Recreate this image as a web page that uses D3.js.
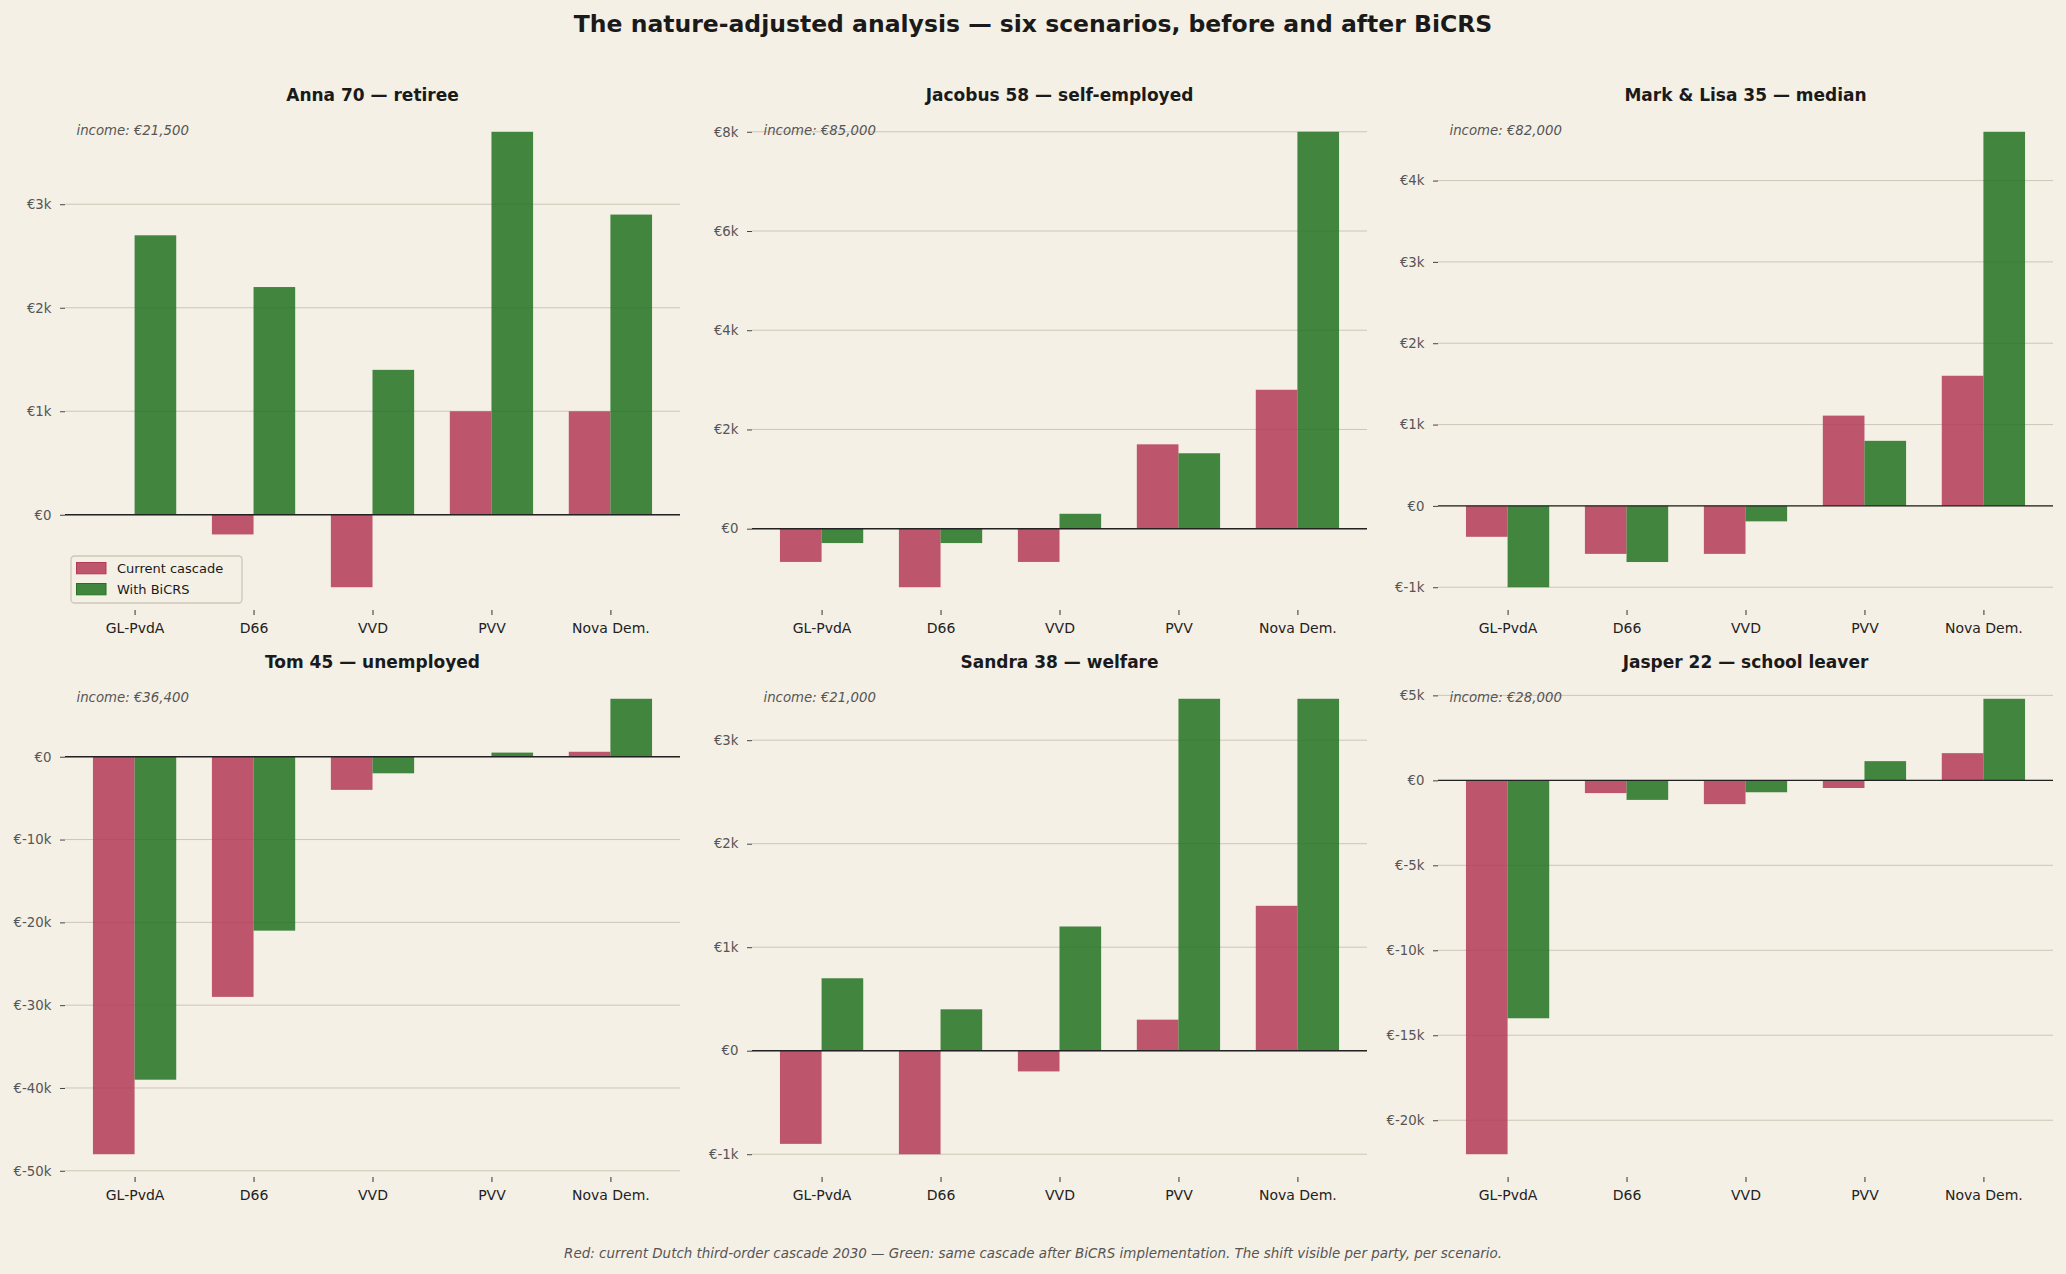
<!DOCTYPE html>
<html>
<head>
<meta charset="utf-8">
<script src="https://cdn.jsdelivr.net/npm/d3@7"></script>
<style>
  html, body { margin: 0; padding: 0; background: #f5f0e5; }
  svg { display: block; }
  text { font-family: "DejaVu Sans", sans-serif; }
</style>
</head>
<body>
<svg id="chart" width="2066" height="1274"></svg>
<script>
// ---- data (euros) ----
const parties = ["GL-PvdA", "D66", "VVD", "PVV", "Nova Dem."];
const seriesNames = ["Current cascade", "With BiCRS"];

const scenarioTitles = [
  "Anna 70 — retiree",
  "Jacobus 58 — self-employed",
  "Mark & Lisa 35 — median",
  "Tom 45 — unemployed",
  "Sandra 38 — welfare",
  "Jasper 22 — school leaver"
];
const incomeLabels = ["€21,500", "€85,000", "€82,000", "€36,400", "€21,000", "€28,000"];

const annaCurrent    = [0, -190, -700, 1000, 1000];
const annaBicrs      = [2700, 2200, 1400, 3700, 2900];
const jacobusCurrent = [-670, -1180, -670, 1700, 2800];
const jacobusBicrs   = [-290, -290, 300, 1520, 8000];
const markCurrent    = [-380, -590, -590, 1110, 1600];
const markBicrs      = [-1000, -690, -190, 800, 4600];
const tomCurrent     = [-48000, -29000, -4000, 0, 600];
const tomBicrs       = [-39000, -21000, -2000, 500, 7000];
const sandraCurrent  = [-900, -1000, -200, 300, 1400];
const sandraBicrs    = [700, 400, 1200, 3400, 3400];
const jasperCurrent  = [-22000, -750, -1400, -450, 1600];
const jasperBicrs    = [-14000, -1150, -700, 1130, 4800];

const annaTicks    = [0, 1000, 2000, 3000];
const jacobusTicks = [0, 2000, 4000, 6000, 8000];
const markTicks    = [-1000, 0, 1000, 2000, 3000, 4000];
const tomTicks     = [-50000, -40000, -30000, -20000, -10000, 0];
const sandraTicks  = [-1000, 0, 1000, 2000, 3000];
const jasperTicks  = [-20000, -15000, -10000, -5000, 0, 5000];

const mainTitle = "The nature-adjusted analysis — six scenarios, before and after BiCRS";
const footNote = "Red: current Dutch third-order cascade 2030 — Green: same cascade after BiCRS implementation. The shift visible per party, per scenario.";

const panels = [
  { cur: annaCurrent,    bic: annaBicrs,    ticks: annaTicks },
  { cur: jacobusCurrent, bic: jacobusBicrs, ticks: jacobusTicks },
  { cur: markCurrent,    bic: markBicrs,    ticks: markTicks },
  { cur: tomCurrent,     bic: tomBicrs,     ticks: tomTicks },
  { cur: sandraCurrent,  bic: sandraBicrs,  ticks: sandraTicks },
  { cur: jasperCurrent,  bic: jasperBicrs,  ticks: jasperTicks }
];

// ---- styling / layout ----
const BG = "#f5f0e5";
const RED = "#b33a57", GREEN = "#217222", ALPHA = 0.85;
const GRID = "#cdc6b6";
const colLeft = [65, 752, 1438];
const rowTop = [109, 676];
const W = 615, H = 501;
const barW = 0.35;

const svg = d3.select("#chart");
svg.append("rect").attr("width", 2066).attr("height", 1274).attr("fill", BG);

svg.append("text")
  .attr("x", 1033).attr("y", 32)
  .attr("text-anchor", "middle")
  .attr("font-size", 23.5).attr("font-weight", "bold")
  .attr("fill", "#1a1a1a")
  .text(mainTitle);

svg.append("text")
  .attr("x", 1033).attr("y", 1258)
  .attr("text-anchor", "middle")
  .attr("font-size", 13.45).attr("font-style", "italic")
  .attr("fill", "#555")
  .text(footNote);

const fmt = v => v === 0 ? "€0" : "€" + (v / 1000) + "k";

panels.forEach((p, idx) => {
  const left = colLeft[idx % 3], top = rowTop[Math.floor(idx / 3)];
  const g = svg.append("g").attr("transform", `translate(${left},${top})`);

  const all = p.cur.concat(p.bic, [0]);
  const lo = d3.min(all), hi = d3.max(all);
  const m = (hi - lo) * 0.05;
  const y = d3.scaleLinear().domain([lo - m, hi + m]).range([H, 0]);
  const xm = (parties.length - 1 + 2 * barW) * 0.05;
  const x = d3.scaleLinear().domain([-barW - xm, parties.length - 1 + barW + xm]).range([0, W]);

  // grid
  g.append("g").selectAll("line").data(p.ticks).join("line")
    .attr("x1", 0).attr("x2", W)
    .attr("y1", d => y(d)).attr("y2", d => y(d))
    .attr("stroke", GRID).attr("stroke-width", 1);

  // bars
  const series = [{ vals: p.cur, off: -barW, col: RED }, { vals: p.bic, off: 0, col: GREEN }];
  series.forEach(s => {
    g.append("g").selectAll("rect").data(s.vals).join("rect")
      .attr("x", (d, i) => x(i + s.off))
      .attr("width", x(barW) - x(0))
      .attr("y", d => y(Math.max(0, d)))
      .attr("height", d => Math.abs(y(d) - y(0)))
      .attr("fill", s.col).attr("fill-opacity", ALPHA);
  });

  // zero line
  g.append("line").attr("x1", 0).attr("x2", W)
    .attr("y1", y(0)).attr("y2", y(0))
    .attr("stroke", "#222").attr("stroke-width", 1.4);

  // y axis
  const ya = g.append("g").call(d3.axisLeft(y).tickValues(p.ticks).tickFormat(fmt).tickSize(5).tickPadding(8.5));
  ya.select(".domain").remove();
  ya.selectAll(".tick line").attr("stroke", "#444");
  ya.selectAll(".tick text").attr("font-size", 13.3).attr("fill", "#555")
    .attr("font-family", "DejaVu Sans, sans-serif");

  // x axis
  const xa = g.append("g").attr("transform", `translate(0,${H})`)
    .call(d3.axisBottom(x).tickValues(d3.range(parties.length)).tickFormat(i => parties[i]).tickSize(5).tickPadding(8));
  xa.select(".domain").remove();
  xa.selectAll(".tick line").attr("stroke", "#333");
  xa.selectAll(".tick text").attr("font-size", 14).attr("fill", "#222")
    .attr("font-family", "DejaVu Sans, sans-serif");

  // title
  g.append("text").attr("x", W / 2).attr("y", -8)
    .attr("text-anchor", "middle").attr("font-size", 17).attr("font-weight", "bold")
    .attr("fill", "#1a1a1a").text(scenarioTitles[idx]);

  // income label
  g.append("text").attr("x", 11.5).attr("y", 25.5)
    .attr("font-size", 13.3).attr("font-style", "italic").attr("fill", "#555")
    .text("income: " + incomeLabels[idx]);

  // legend in first panel
  if (idx === 0) {
    const lg = g.append("g").attr("transform", `translate(6,${H - 54})`);
    lg.append("rect").attr("width", 171).attr("height", 47).attr("rx", 3.5)
      .attr("fill", BG).attr("fill-opacity", 0.8)
      .attr("stroke", "#cdc6b7").attr("stroke-width", 1.3);
    [RED, GREEN].forEach((c, k) => {
      lg.append("rect").attr("x", 5.5).attr("y", 6.5 + k * 21).attr("width", 29.5).attr("height", 11.3)
        .attr("fill", c).attr("fill-opacity", ALPHA).attr("stroke", c).attr("stroke-width", 1);
      lg.append("text").attr("x", 46).attr("y", 12.2 + k * 21).attr("dy", "0.35em")
        .attr("font-size", 13).attr("fill", "#1a1a1a").text(seriesNames[k]);
    });
  }
});
</script>
</body>
</html>
